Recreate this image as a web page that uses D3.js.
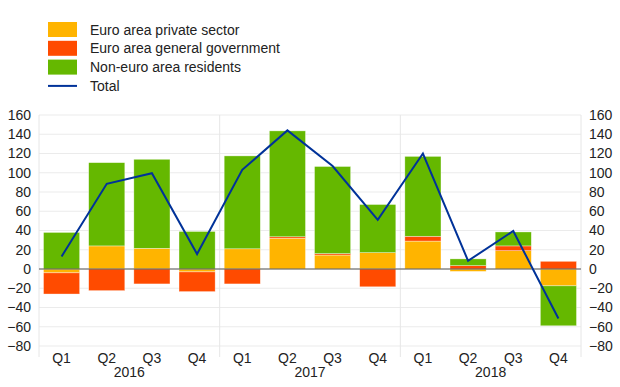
<!DOCTYPE html>
<html>
<head>
<meta charset="utf-8">
<script src="https://cdn.jsdelivr.net/npm/d3@7"></script>
<style>
  body { margin: 0; background: #fff; }
  svg text { font-family: Arial, "Liberation Sans", sans-serif; fill: #222; }
</style>
</head>
<body>
<div id="chart"></div>
<script>
// quarters and years on the x axis
var quarters = ["Q1","Q2","Q3","Q4","Q1","Q2","Q3","Q4","Q1","Q2","Q3","Q4"];
var years = ["2016","2016","2016","2016","2017","2017","2017","2017","2018","2018","2018","2018"];

// series (EUR billions)
var privateSector = [-4, 24, 21.5, -3, 21, 32, 14.5, 17, 29, -2.5, 19, -17.5];
var generalGov    = [-22, -22.5, -15.5, -20.5, -15.5, 1.5, 1.5, -18.5, 5, 3.5, 5, 8];
var nonEuro       = [38, 86.5, 92.5, 39, 96.5, 110, 90.5, 50, 83, 7, 14.5, -41.5];
var total         = [13, 88.5, 99.5, 15.5, 103, 144, 107, 51, 120, 8.5, 39.5, -51.5];

var yTicks = [-80, -60, -40, -20, 0, 20, 40, 60, 80, 100, 120, 140, 160];

var seriesNames = ["Euro area private sector", "Euro area general government", "Non-euro area residents"];
var colors = ["#ffb400", "#ff4b00", "#65b800"];
var lineColor = "#003299";

var width = 620, height = 387;
var margin = {left: 39, right: 39, top: 115, bottom: 41};

var svg = d3.select("#chart").append("svg")
  .attr("width", width)
  .attr("height", height);

var keys = ["p", "g", "n"];
var ids = d3.range(quarters.length);
var table = ids.map(function(i) {
  return {i: i, p: privateSector[i], g: generalGov[i], n: nonEuro[i]};
});

var x = d3.scaleBand()
  .domain(ids)
  .range([margin.left, width - margin.right])
  .paddingInner(0.2)
  .paddingOuter(0.1);

var y = d3.scaleLinear()
  .domain([-80, 160])
  .range([height - margin.bottom, margin.top]);

// grid lines
svg.append("g").selectAll("line")
  .data(yTicks)
  .enter().append("line")
  .attr("x1", margin.left)
  .attr("x2", width - margin.right)
  .attr("y1", function(d) { return y(d); })
  .attr("y2", function(d) { return y(d); })
  .style("stroke", "#ebebeb")
  .style("stroke-width", 1);

// year separators (incl. plot edges)
var step = x.step();
var seps = [margin.left];
ids.forEach(function(i) {
  if (i > 0 && years[i] !== years[i - 1]) seps.push(x(i) - step * x.paddingInner() / 2);
});
seps.push(width - margin.right);
svg.append("g").selectAll("line")
  .data(seps)
  .enter().append("line")
  .attr("x1", function(d) { return d; })
  .attr("x2", function(d) { return d; })
  .attr("y1", y(160))
  .attr("y2", y(-80) + 11)
  .style("stroke", "#e6e6e6")
  .style("stroke-width", 1);

// stacked bars
var stack = d3.stack().keys(keys).offset(d3.stackOffsetDiverging);
var layers = stack(table);

svg.append("g").selectAll("g")
  .data(layers)
  .enter().append("g")
  .style("fill", function(d, k) { return colors[k]; })
  .selectAll("rect")
  .data(function(d) { return d; })
  .enter().append("rect")
  .attr("x", function(d) { return x(d.data.i); })
  .attr("width", x.bandwidth())
  .attr("y", function(d) { return y(Math.max(d[0], d[1])); })
  .attr("height", function(d) { return Math.abs(y(d[0]) - y(d[1])); })
  .style("stroke", "#fff")
  .style("stroke-opacity", 0.6)
  .style("stroke-width", 0.6);

// zero line
svg.append("line")
  .attr("x1", margin.left)
  .attr("x2", width - margin.right)
  .attr("y1", y(0))
  .attr("y2", y(0))
  .style("stroke", "#555")
  .style("stroke-width", 1);

// total line
var line = d3.line()
  .x(function(d, i) { return x(i) + x.bandwidth() / 2; })
  .y(function(d) { return y(d); });

svg.append("path")
  .datum(total)
  .attr("d", line)
  .style("fill", "none")
  .style("stroke", lineColor)
  .style("stroke-width", 2);

// y axes (left and right)
var leftAxis = d3.axisLeft(y).tickValues(yTicks).tickSize(0).tickPadding(8);
var rightAxis = d3.axisRight(y).tickValues(yTicks).tickSize(0).tickPadding(8);

var gl = svg.append("g")
  .attr("transform", "translate(" + margin.left + ",0)")
  .call(leftAxis);
var gr = svg.append("g")
  .attr("transform", "translate(" + (width - margin.right) + ",0)")
  .call(rightAxis);
[gl, gr].forEach(function(g) {
  g.select(".domain").remove();
  g.selectAll("text")
    .style("font-size", "14px")
    .style("font-family", "Arial, 'Liberation Sans', sans-serif")
    .style("fill", "#222");
});

// x labels
svg.append("g").selectAll("text")
  .data(ids)
  .enter().append("text")
  .attr("x", function(i) { return x(i) + x.bandwidth() / 2; })
  .attr("y", 363)
  .attr("text-anchor", "middle")
  .style("font-size", "14px")
  .text(function(i) { return quarters[i]; });

var yearGroups = d3.groups(ids, function(i) { return years[i]; });
svg.append("g").selectAll("text")
  .data(yearGroups)
  .enter().append("text")
  .attr("x", function(d) {
    var a = d[1][0], b = d[1][d[1].length - 1];
    return (x(a) + x(b) + x.bandwidth()) / 2;
  })
  .attr("y", 377)
  .attr("text-anchor", "middle")
  .style("font-size", "14px")
  .text(function(d) { return d[0]; });

// legend
var legend = svg.append("g").attr("transform", "translate(48,22)");
var rowH = 18.8;
seriesNames.forEach(function(name, k) {
  var row = legend.append("g").attr("transform", "translate(0," + (k * rowH) + ")");
  row.append("rect")
    .attr("width", 29)
    .attr("height", 15)
    .style("fill", colors[k]);
  row.append("text")
    .attr("x", 42)
    .attr("y", 12.5)
    .style("font-size", "14px")
    .text(name);
});
var lrow = legend.append("g").attr("transform", "translate(0," + (3 * rowH) + ")");
lrow.append("line")
  .attr("x1", 0).attr("x2", 29)
  .attr("y1", 7.5).attr("y2", 7.5)
  .style("stroke", lineColor)
  .style("stroke-width", 2);
lrow.append("text")
  .attr("x", 42)
  .attr("y", 12.5)
  .style("font-size", "14px")
  .text("Total");
</script>
</body>
</html>
